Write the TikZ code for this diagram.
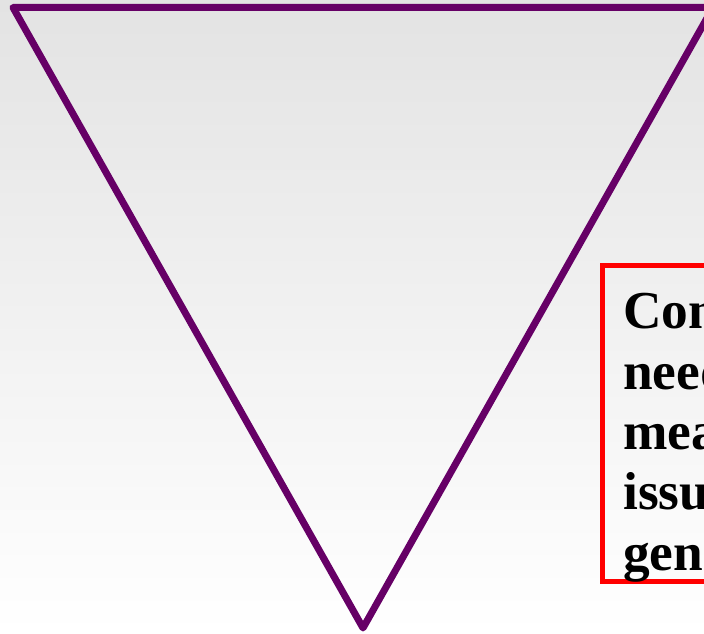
\documentclass[tikz,border=0pt]{standalone}
\usepackage{fontspec}
\setmainfont{Liberation Serif}
\definecolor{triPurple}{RGB}{102,0,102}
\definecolor{boxRed}{RGB}{255,0,0}
\definecolor{bgTop}{RGB}{227,227,227}
\definecolor{bgBot}{RGB}{255,255,255}
\begin{document}
\begin{tikzpicture}[x=0.75pt,y=-0.75pt,
  triline/.style={draw=triPurple,line width=5.25pt,line join=round},
  redbox/.style={draw=boxRed,line width=3.75pt},
  boxtext/.style={anchor=base west,inner sep=0pt,font=\fontsize{40}{46}\selectfont\bfseries}]
\useasboundingbox (0,0) rectangle (704,634);
\clip (0,0) rectangle (704,634);
\shade[top color=bgTop,bottom color=bgBot] (0,0) rectangle (704,634);
% inverted triangle
\coordinate (tl) at (13,7.5);
\coordinate (tr) at (713,7.5);
\coordinate (apex) at (363,628);
\draw[triline] (tl) -- (tr) -- (apex) -- cycle;
% red text box (extends beyond right edge)
\draw[redbox] (602.5,265.5) rectangle (820,582);
\node[boxtext] (l1) at (623,329) {Con};
\node[boxtext] (l2) at (623,390) {need};
\node[boxtext] (l3) at (623,450) {mea};
\node[boxtext] (l4) at (623,510) {issu};
\node[boxtext] (l5) at (623,571) {gen};
\end{tikzpicture}
\end{document}
